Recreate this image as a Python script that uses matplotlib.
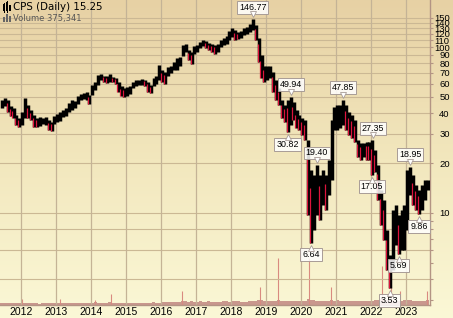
import numpy as np
import pandas as pd
import matplotlib
matplotlib.use('Agg')
import matplotlib.pyplot as plt
import matplotlib.ticker as mticker
from matplotlib.transforms import offset_copy
from matplotlib.colors import LinearSegmentedColormap
from matplotlib.patches import Rectangle

# ---------------- data (monthly high / low) ----------------
first_month = '2011-06-01'
price_high = [
    47.9, 49.3, 47.9, 44.1, 42.9, 38.9, 37.3,
    40.6, 49.3, 44.7, 41.7, 38.9, 37.3, 37.8, 37.3, 37.8, 36.3, 35.3, 38.4,
    39.4, 40.6, 41.7, 42.9, 46.0, 47.9, 47.3, 50.7, 52.1, 52.8, 53.6, 51.4,
    59.0, 61.6, 67.8, 68.8, 66.9, 66.9, 68.8, 66.0, 65.1, 61.6, 58.2, 56.6,
    57.4, 58.2, 61.6, 63.3, 63.3, 64.2, 63.3, 61.6, 59.0, 65.1, 66.9, 77.9,
    72.7, 70.7, 75.8, 76.8, 81.2, 85.8, 87.0, 102.8, 104.2, 95.9, 93.3, 101.4,
    102.8, 107.2, 110.2, 108.7, 105.7, 104.2, 102.8, 104.2, 110.2, 113.3, 116.5, 124.8,
    130.1, 126.6, 123.1, 124.8, 130.1, 131.9, 137.6, 146.77, 135.7, 113.3, 89.5, 76.8,
    76.8, 76.8, 70.7, 63.3, 56.6, 47.9, 44.7, 47.9, 49.94, 46.6, 41.7, 38.9,
    37.3, 36.3, 27.5, 18.2, 16.9, 19.40, 16.9, 18.2, 16.9, 20.9, 36.3, 43.5,
    44.7, 44.7, 47.85, 44.7, 40.6, 38.9, 36.3, 27.5, 26.4, 26.4, 26.9, 26.8,
    27.35, 24.0, 19.5, 13.8, 12.0, 7.90, 5.59, 10.4, 11.2, 9.72, 10.4, 11.2,
    18.2, 18.95, 16.9, 14.7, 13.8, 14.7, 15.8, 15.8,
]
price_low = [
    42.9, 44.1, 40.6, 38.4, 37.3, 33.9, 32.9,
    33.9, 37.3, 37.3, 36.3, 32.9, 32.9, 33.4, 34.3, 33.9, 31.6, 31.2, 34.3,
    35.3, 35.8, 37.8, 38.4, 40.6, 41.7, 42.9, 45.3, 47.9, 48.6, 47.9, 45.3,
    51.4, 55.1, 59.0, 63.3, 61.6, 60.7, 61.6, 61.6, 59.9, 53.6, 50.7, 50.0,
    50.7, 52.1, 56.6, 58.2, 59.0, 59.0, 58.2, 53.6, 52.8, 58.2, 59.9, 63.3,
    61.6, 59.9, 66.9, 69.7, 72.7, 72.7, 76.8, 88.2, 93.3, 83.5, 79.0, 90.7,
    93.3, 98.6, 101.4, 98.6, 95.9, 93.3, 90.7, 93.3, 100.0, 102.8, 104.2, 110.2,
    114.9, 110.2, 111.7, 113.3, 118.1, 119.8, 123.1, 126.6, 110.2, 81.2, 65.1, 61.6,
    63.3, 65.1, 53.6, 47.9, 44.7, 37.3, 35.3, 30.82, 33.9, 36.3, 32.5, 31.6,
    29.5, 27.5, 9.72, 6.64, 7.90, 9.72, 9.07, 11.2, 10.4, 12.8, 15.8, 31.6,
    31.6, 32.5, 33.9, 31.6, 29.5, 28.3, 26.8, 21.6, 20.9, 21.6, 20.9, 20.9,
    17.05, 17.7, 12.0, 8.47, 6.88, 4.54, 3.53, 4.54, 6.42, 5.69, 5.99, 5.99,
    7.90, 12.8, 11.2, 10.4, 9.86, 10.4, 12.0, 13.8,
]
# typical daily volume per month (thousand shares)
volume_k = [
    80, 90, 120, 100, 90, 110, 80,
    90, 110, 80, 90, 100, 80, 70, 80, 90, 100, 90, 80,
    110, 120, 90, 100, 110, 90, 80, 90, 100, 90, 80, 90,
    100, 130, 110, 100, 120, 110, 150, 100, 90, 110, 100, 90,
    110, 120, 100, 110, 100, 90, 100, 120, 110, 130, 100, 110,
    150, 160, 150, 140, 150, 160, 170, 200, 180, 170, 180, 160,
    170, 180, 170, 160, 180, 170, 160, 170, 160, 180, 190, 170,
    180, 190, 180, 170, 160, 170, 180, 190, 200, 260, 240, 220,
    210, 200, 190, 200, 230, 220, 200, 210, 200, 220, 210, 200,
    210, 220, 280, 260, 230, 220, 200, 190, 200, 210, 240, 220,
    230, 220, 210, 200, 210, 200, 190, 210, 200, 190, 200, 210,
    220, 230, 260, 280, 270, 260, 250, 230, 220, 210, 220, 230,
    240, 230, 220, 210, 200, 190, 200, 230,
]
spike_dates = ['2012-01-10', '2013-02-15', '2014-02-10', '2014-07-25', '2016-08-05',
               '2018-10-26', '2019-05-03', '2020-03-20', '2020-11-06', '2022-04-29',
               '2022-07-29', '2022-11-04', '2023-08-04']
spike_volume_k = [300, 300, 250, 550, 700, 900, 2300, 2300, 900, 1900, 1000, 700, 700]

ann_dates = ['2018-08-15', '2019-08-15', '2019-09-15', '2020-04-15', '2020-06-15',
             '2021-03-15', '2022-01-20', '2022-01-10', '2022-07-15', '2022-10-15',
             '2023-02-15', '2023-05-15']
ann_values = [146.77, 30.82, 49.94, 6.64, 19.40, 47.85, 27.35, 17.05, 3.53, 5.69, 18.95, 9.86]
ann_kind = ['high', 'low', 'high', 'low', 'high', 'high', 'high', 'low', 'low', 'low',
            'high', 'low']

title_text = 'CPS (Daily) 15.25'
volume_text = 'Volume 375,341'
years = list(range(2012, 2024))
price_ticks = [10, 20, 30, 40, 50, 60, 70, 80, 90, 100, 110, 120, 130, 140, 150]
minor_price_ticks = [3, 4, 5, 6, 7, 8, 9]

# ---------------- figure ----------------
W, H = 453, 318
fig = plt.figure(figsize=(W / 100, H / 100), dpi=100)

# background gradient over the whole figure
bg = fig.add_axes([0, 0, 1, 1], zorder=0)
cmap = LinearSegmentedColormap.from_list('bg', ['#e7d1a4', '#f2e7bd', '#fbf8d6'])
bg.imshow(np.linspace(0, 1, 256).reshape(-1, 1), cmap=cmap, aspect='auto',
          extent=(0, 1, 0, 1))
bg.set_axis_off()

rect = [0, 13 / H, 430 / W, 305 / H]
months = pd.date_range(first_month, periods=len(price_high), freq='MS') + pd.Timedelta(days=14)
xmin, xmax = pd.Timestamp('2011-05-27'), pd.Timestamp('2023-09-08')

# volume axes
axv = fig.add_axes(rect, zorder=1)
axv.patch.set_alpha(0)
axv.bar(months, volume_k, width=31, color='#c9978d', edgecolor='none', align='center')
axv.vlines(pd.to_datetime(spike_dates), 0, spike_volume_k, color='#d98a80', lw=0.8)
axv.set_xlim(xmin, xmax)
axv.set_ylim(0, 15000)
axv.set_axis_off()

# price axes
ax = fig.add_axes(rect, zorder=2)
ax.patch.set_alpha(0)
ax.set_yscale('log')
ax.set_ylim(2.79, 192)
ax.set_xlim(xmin, xmax)

hi = np.array(price_high)
lo = np.array(price_low)
ax.vlines(months, lo, hi, color='black', lw=2.5, zorder=3)
mid = np.sqrt(hi * lo)
down = np.r_[False, mid[1:] < mid[:-1]]
ax.vlines(months[down] - pd.Timedelta(days=11), lo[down], np.sqrt(hi[down] * mid[down]),
          color='#dc143c', lw=0.9, zorder=4)

# grid
grid_c = '#cbb894'
for y in price_ticks + [4, 6, 8]:
    ax.axhline(y, color=grid_c, lw=0.8, zorder=1)
for yr in years:
    ax.axvline(pd.Timestamp(f'{yr}-01-01'), color='#c4b396', lw=0.9, zorder=1)

# axes styling
for s in ['left', 'top']:
    ax.spines[s].set_visible(False)
for s in ['right', 'bottom']:
    ax.spines[s].set_color('#b39484')
    ax.spines[s].set_linewidth(1.0)

ax.yaxis.tick_right()
ax.yaxis.set_major_locator(mticker.FixedLocator(price_ticks))
ax.yaxis.set_major_formatter(mticker.FixedFormatter([str(t) for t in price_ticks]))
ax.yaxis.set_minor_locator(mticker.FixedLocator(minor_price_ticks))
ax.yaxis.set_minor_formatter(mticker.NullFormatter())
ax.tick_params(axis='y', which='both', direction='out', length=2.2, width=0.8,
               color='#b39484', pad=12.0, labelsize=6.8, labelcolor='black')
for lab in ax.get_yticklabels():
    lab.set_family('Liberation Sans')
    lab.set_horizontalalignment('right')

ax.set_xticks([pd.Timestamp(f'{yr}-01-01') for yr in years])
ax.set_xticklabels([str(yr) for yr in years])
ax.tick_params(axis='x', length=0, pad=1.5, labelsize=7.5, labelcolor='black')
for lab in ax.get_xticklabels():
    lab.set_family('Liberation Sans')

# annotations
box_ec = '#a89c96'
for d, v, kind in zip(ann_dates, ann_values, ann_kind):
    x = pd.Timestamp(d)
    sgn = 1 if kind == 'high' else -1
    ax.annotate(f'{v:.2f}', xy=(x, v), xytext=(0, sgn * 8.8), textcoords='offset points',
                ha='center', va='center', fontsize=6.4, family='Liberation Sans',
                bbox=dict(boxstyle='square,pad=0.22', fc=(1, 1, 1, 0.85), ec=box_ec, lw=0.7),
                zorder=6, annotation_clip=False)
    tr = offset_copy(ax.transData, fig=fig, x=0, y=sgn * 3.6, units='points')
    ax.plot([x], [v], marker='v' if kind == 'high' else '^', ms=4.2, mfc='white',
            mec=box_ec, mew=0.6, transform=tr, zorder=7, clip_on=False)

# legend texts and icons
fig.text(13 / W, 1 - 7.5 / H, title_text, fontsize=7.4, va='center', ha='left',
         color='black', zorder=5)
fig.text(13 / W, 1 - 18.5 / H, volume_text, fontsize=6.0, va='center', ha='left',
         color='#555555', zorder=5)


def px_rect(x, y, w, h, color):
    fig.add_artist(Rectangle((x / W, 1 - (y + h) / H), w / W, h / H,
                             transform=fig.transFigure, color=color, zorder=5, lw=0))


# candle icon
px_rect(3, 4, 2, 7, 'black')
px_rect(6, 2, 2, 9, 'black')
px_rect(9, 5, 2, 6, 'black')
px_rect(4, 3, 0.6, 10, 'black')
px_rect(7, 1, 0.6, 12, 'black')
# volume icon
px_rect(3, 17, 2, 5, '#666666')
px_rect(6, 14, 2, 8, '#666666')
px_rect(9, 16, 2, 6, '#666666')

fig.savefig('out.png', dpi=100)
